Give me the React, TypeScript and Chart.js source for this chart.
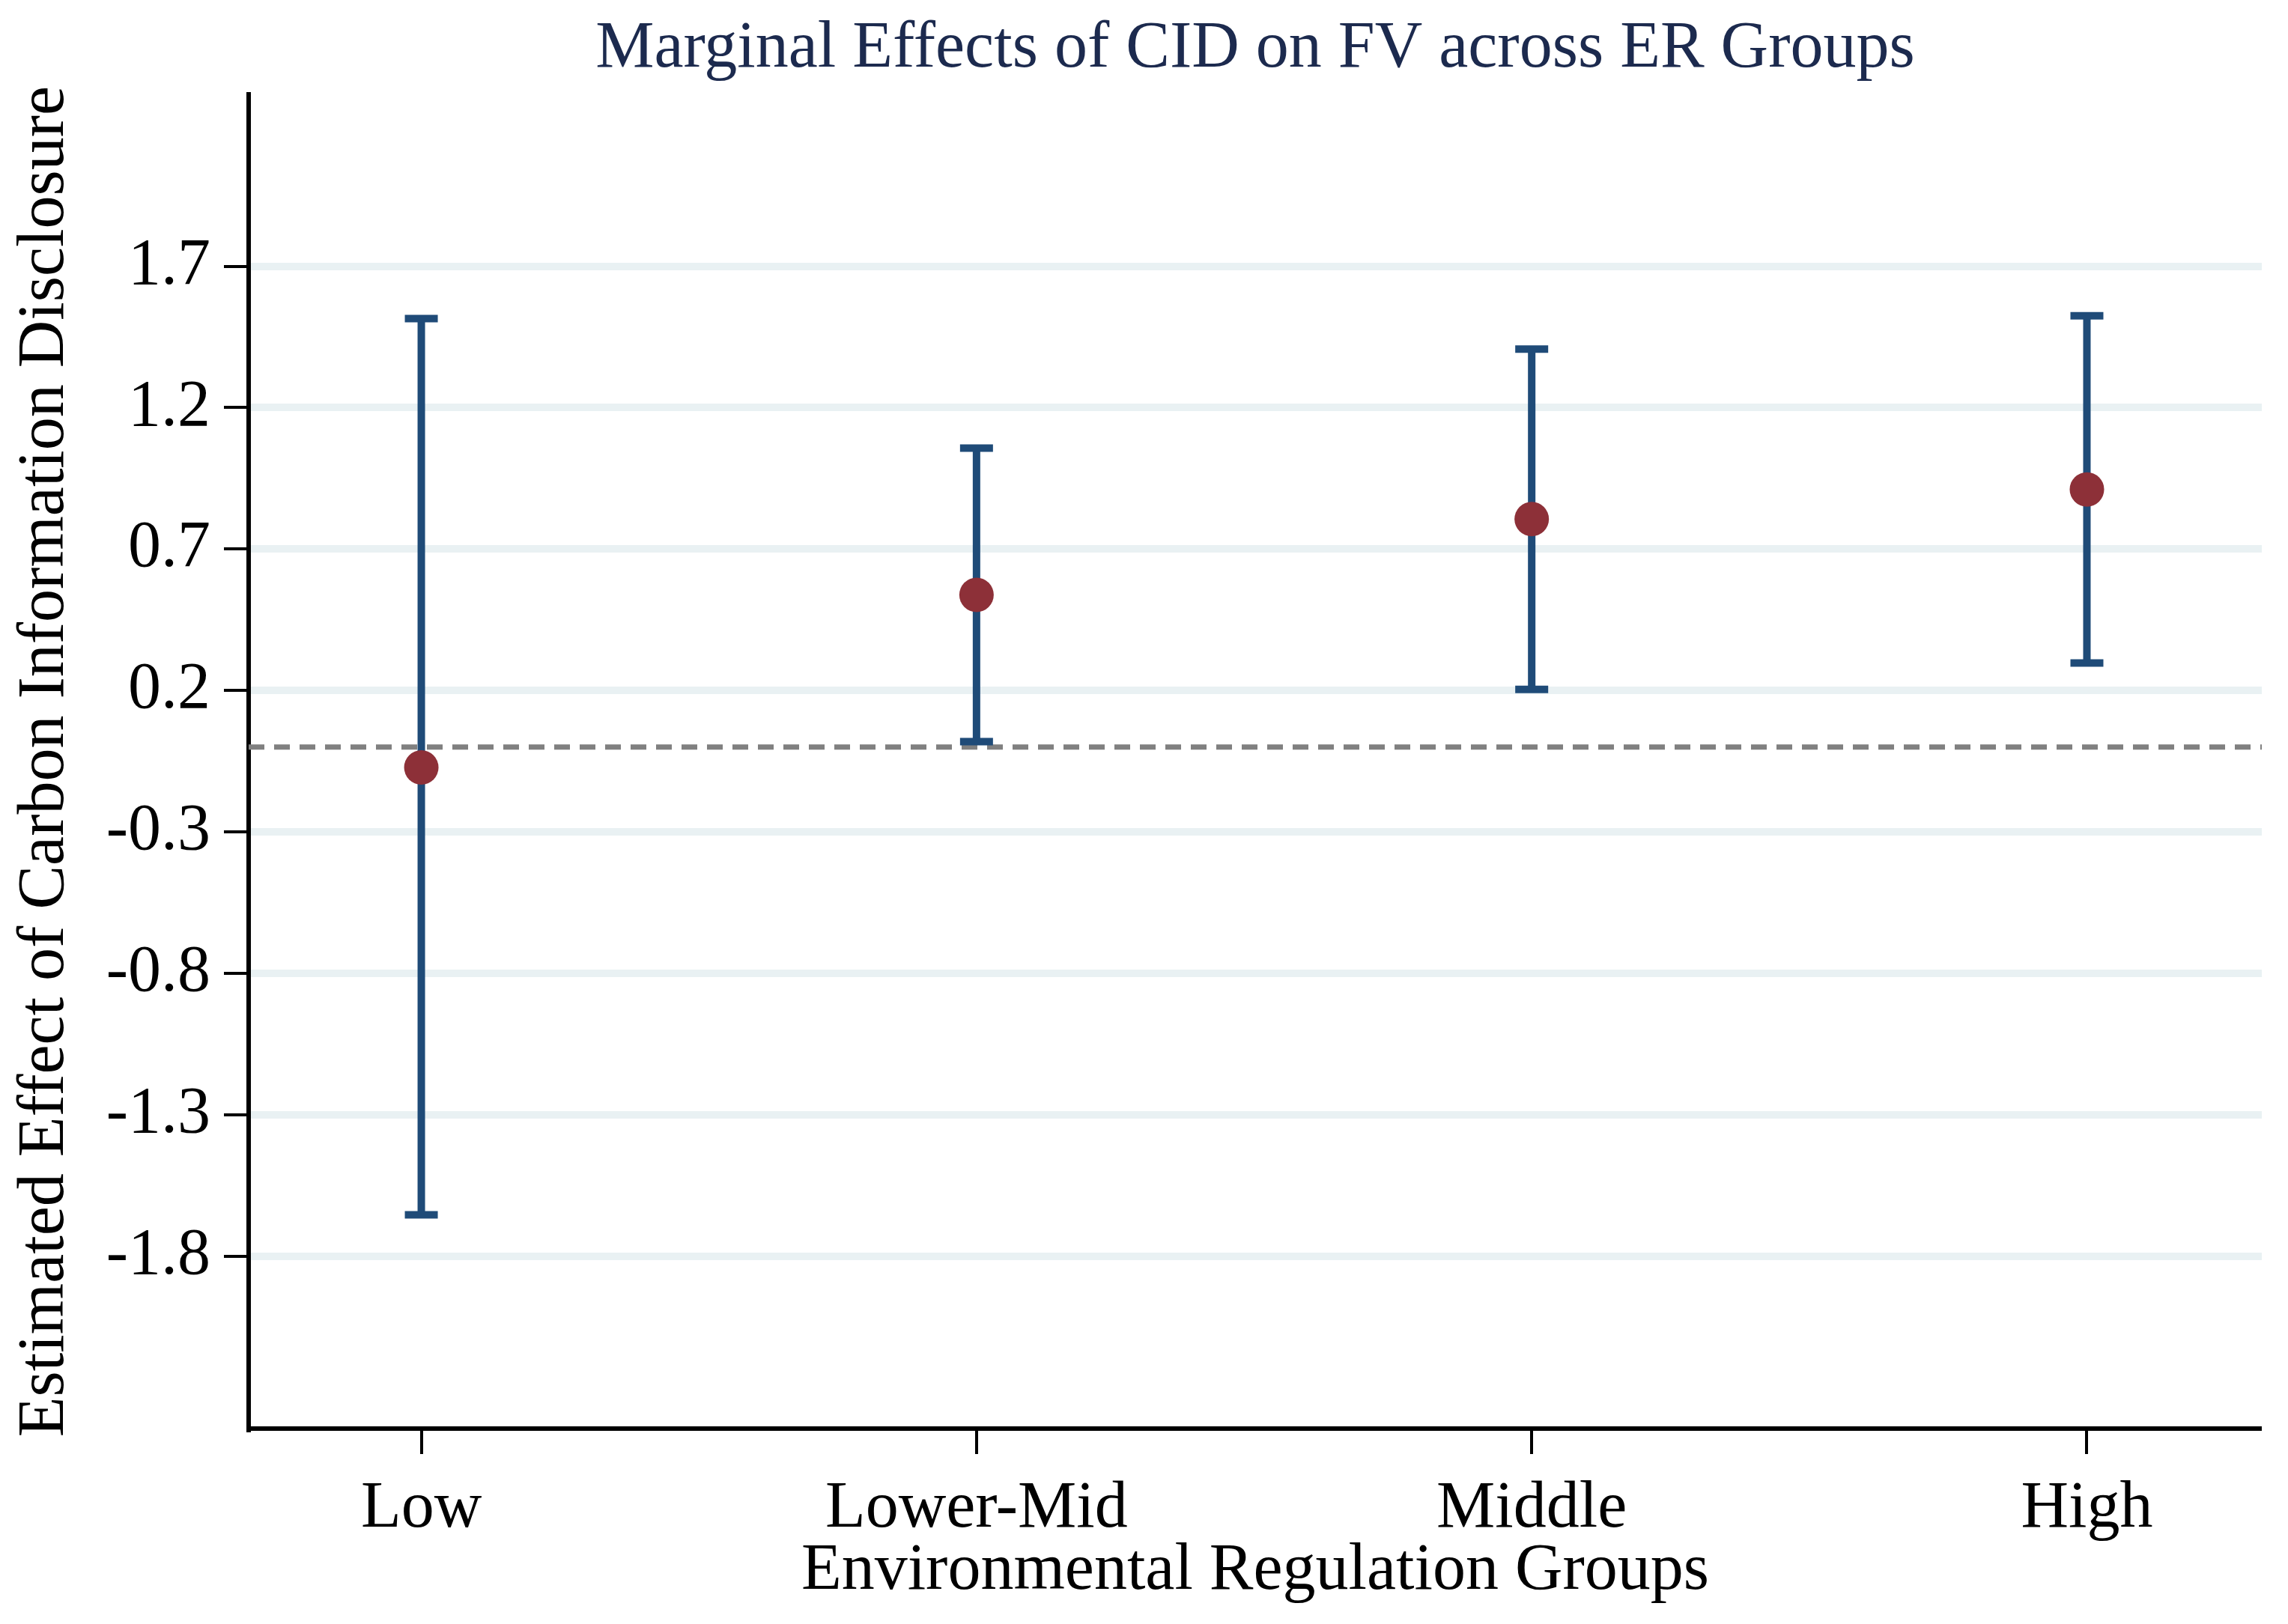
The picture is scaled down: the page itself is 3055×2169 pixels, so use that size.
import React, { useEffect, useRef } from "react";
import { Chart, registerables } from "chart.js";

Chart.register(...registerables);

// ---------- data ----------
const groups = ["Low", "Lower-Mid", "Middle", "High"];
const groupPos = [1, 2, 3, 4];
const estimates = [-0.072, 0.538, 0.806, 0.911];
const lowerCI = [-1.654, 0.019, 0.204, 0.297];
const upperCI = [1.515, 1.057, 1.407, 1.525];
const yTickValues = [-1.8, -1.3, -0.8, -0.3, 0.2, 0.7, 1.2, 1.7];
const referenceValue = 0;
const chartTitle = "Marginal Effects of CID on FV across ER Groups";
const xTitle = "Environmental Regulation Groups";
const yTitle = "Estimated Effect of Carbon Information Disclosure";

// ---------- styles ----------
const W = 3055;
const H = 2169;
const FONT = '"Liberation Serif", "Times New Roman", serif';
const NAVY = "#1f4b78";
const MAROON = "#8d3038";
const GRID = "#e9f1f3";
const TITLE_COLOR = "#1c2a4e";
const X_MIN = 0.689;
const X_MAX = 4.315;
const Y_MIN = -2.41;
const Y_MAX = 2.308;

const centeredTitle = {
  id: "centeredTitle",
  afterDraw(chart: any) {
    const { ctx, chartArea } = chart;
    ctx.save();
    ctx.font = `88px ${FONT}`;
    ctx.fillStyle = TITLE_COLOR;
    ctx.textAlign = "center";
    ctx.textBaseline = "alphabetic";
    ctx.fillText(chartTitle, (chartArea.left + chartArea.right) / 2, 89);
    ctx.restore();
  },
};

export default function App() {
  const ref = useRef<HTMLCanvasElement | null>(null);

  useEffect(() => {
    document.body.style.overflow = "hidden";
    const canvas = ref.current;
    if (!canvas) return;

    const whiskers = groupPos.map((x, i) => ({
      type: "line" as const,
      label: `CI ${groups[i]}`,
      data: [
        { x, y: lowerCI[i] },
        { x, y: upperCI[i] },
      ],
      borderColor: NAVY,
      borderWidth: 10,
      pointStyle: "line" as const,
      pointRadius: 22,
      pointHoverRadius: 22,
      pointBorderColor: NAVY,
      pointBorderWidth: 10,
      pointBackgroundColor: NAVY,
      showLine: true,
    }));

    const chart = new Chart(canvas, {
      type: "scatter",
      data: {
        datasets: [
          {
            type: "scatter" as const,
            label: "Estimate",
            data: groupPos.map((x, i) => ({ x, y: estimates[i] })),
            pointRadius: 23,
            pointHoverRadius: 23,
            pointBackgroundColor: MAROON,
            pointBorderWidth: 0,
            pointBorderColor: MAROON,
          },
          ...whiskers,
          {
            type: "line" as const,
            label: "zero",
            data: [
              { x: X_MIN, y: referenceValue },
              { x: X_MAX, y: referenceValue },
            ],
            borderColor: "#808080",
            borderWidth: 7,
            borderDash: [21, 13],
            pointRadius: 0,
            showLine: true,
          },
        ] as any,
      },
      options: {
        responsive: false,
        devicePixelRatio: 1,
        animation: false,
        events: [],
        layout: { padding: { left: 0, right: 35, top: 126, bottom: 0 } },
        plugins: {
          legend: { display: false },
          tooltip: { enabled: false },
          title: { display: false },
        },
        scales: {
          x: {
            type: "linear",
            min: X_MIN,
            max: X_MAX,
            bounds: "data",
            afterBuildTicks: (scale: any) => {
              scale.ticks = groupPos.map((v) => ({ value: v }));
            },
            afterFit: (scale: any) => {
              scale.height = H - 1908;
            },
            ticks: {
              autoSkip: false,
              maxRotation: 0,
              padding: 21,
              color: "#000",
              font: { family: FONT, size: 88 },
              callback: (v: any) => {
                const idx = groupPos.indexOf(Number(v));
                return idx >= 0 ? groups[idx] : "";
              },
            },
            grid: {
              drawOnChartArea: false,
              drawTicks: true,
              lineWidth: 0,
              tickLength: 34,
              tickWidth: 4,
              tickColor: "#000",
            },
            border: { display: true, color: "#000", width: 6 },
            title: {
              display: true,
              text: xTitle,
              color: "#000",
              font: { family: FONT, size: 88 },
              padding: { top: 0, bottom: 17 },
            },
          },
          y: {
            type: "linear",
            min: Y_MIN,
            max: Y_MAX,
            bounds: "data",
            afterBuildTicks: (scale: any) => {
              scale.ticks = yTickValues.map((v) => ({ value: v }));
            },
            afterFit: (scale: any) => {
              scale.width = 332;
            },
            ticks: {
              autoSkip: false,
              padding: 18,
              color: "#000",
              font: { family: FONT, size: 88 },
              callback: (v: any) => Number(v).toFixed(1),
            },
            grid: {
              color: GRID,
              lineWidth: 10,
              drawTicks: true,
              tickLength: 33,
              tickWidth: 4,
              tickColor: "#000",
            },
            border: { display: true, color: "#000", width: 6 },
            title: {
              display: true,
              text: yTitle,
              color: "#000",
              font: { family: FONT, size: 88 },
              padding: { top: 8, bottom: 0 },
            },
          },
        },
      },
      plugins: [centeredTitle],
    });

    return () => {
      chart.destroy();
    };
  }, []);

  return (
    <div style={{ position: "absolute", left: 0, top: 0, width: W, height: H, background: "#fff" }}>
      <canvas ref={ref} width={W} height={H} style={{ display: "block", width: W, height: H }} />
    </div>
  );
}
